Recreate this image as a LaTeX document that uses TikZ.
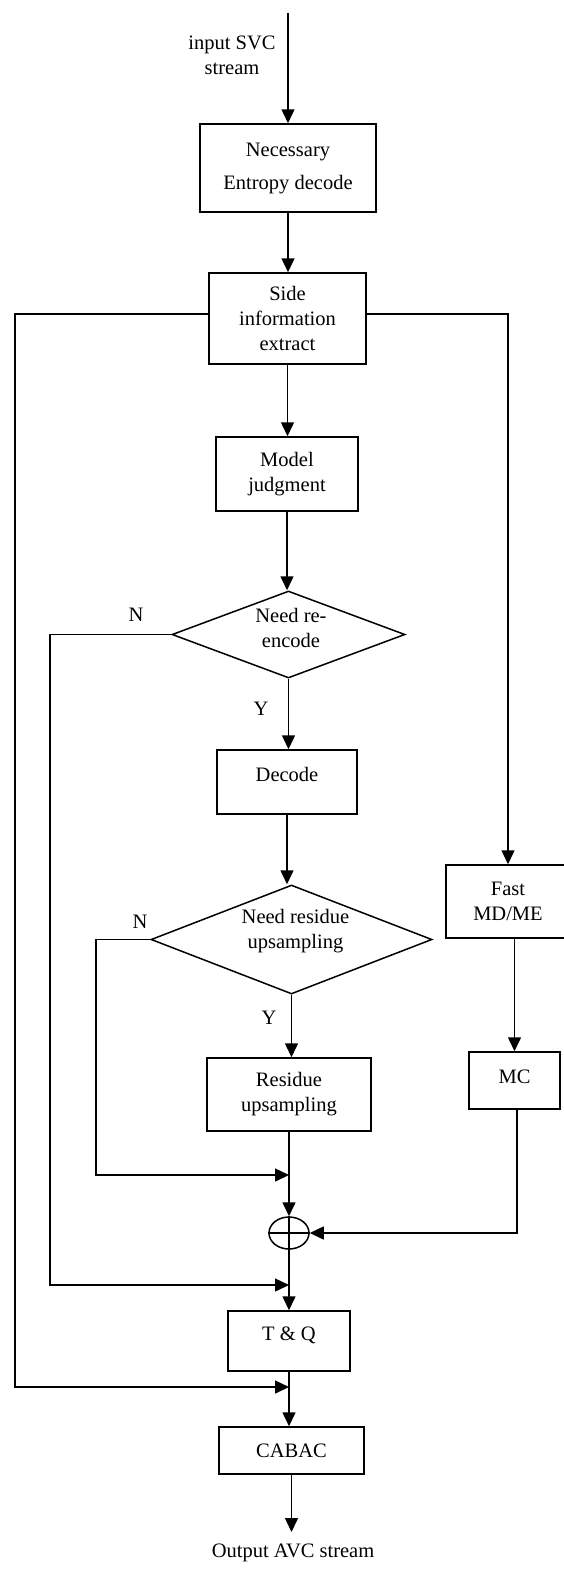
\documentclass[tikz,border=0pt]{standalone}
\usepackage{fontspec}
\setmainfont{Liberation Serif}
\usetikzlibrary{arrows.meta,shapes.geometric}
\tikzset{
  ln/.style={line width=1.5pt},
  arr/.style={ln,-{Triangle[length=14pt,width=13pt]}},
  box/.style={draw,ln,rectangle,inner sep=0pt,align=center,font=\fontsize{20.5}{25}\selectfont},
  dia/.style={draw,ln,diamond,inner sep=0pt},
  txt/.style={inner sep=0pt,align=center,font=\fontsize{20.5}{25}\selectfont},
}
\begin{document}
\begin{tikzpicture}[x=1pt,y=-1pt]
\useasboundingbox[fill=white] (0,0) rectangle (563,1571);
% nodes
\node[box,minimum width=176pt,minimum height=88pt] (b1) at (288,168) {Necessary\\[8pt]Entropy decode};
\node[box,minimum width=157pt,minimum height=91pt] (b2) at (287.5,318.5) {Side\\information\\extract};
\node[box,minimum width=142pt,minimum height=74pt] (model) at (287,474) {Model\\judgment};
\node[dia,minimum width=233pt,minimum height=87pt,
      label={[txt,xshift=2.5pt,yshift=6.5pt]center:{Need re-\\encode}}] (d1) at (288.5,634.5) {};
\node[box,minimum width=140pt,minimum height=64pt,
      label={[txt,yshift=8pt]center:Decode}] (decode) at (287,782) {};
\node[dia,minimum width=281pt,minimum height=109pt,
      label={[txt,xshift=4pt,yshift=8pt]center:{Need residue\\upsampling}}] (d2) at (291.5,939.5) {};
\node[box,minimum width=164pt,minimum height=73pt] (res) at (289,1094.5) {Residue\\upsampling};
\node[box,minimum width=124pt,minimum height=73pt] (fast) at (508,901.5) {Fast\\MD/ME};
\node[box,minimum width=91pt,minimum height=57pt,
      label={[txt,yshift=3.5pt]center:MC}] (mc) at (514.5,1080.5) {};
\node[draw,ln,ellipse,minimum width=40pt,minimum height=32pt,inner sep=0pt] (sum) at (289,1233) {};
\node[box,minimum width=122pt,minimum height=60pt,
      label={[txt,yshift=6pt]center:T \& Q}] (tq) at (289,1341) {};
\node[box,minimum width=145pt,minimum height=47pt] (cabac) at (291.5,1450.5) {CABAC};
% labels
\node[txt] (inlab) at (232,55.5) {input SVC\\stream};
\node[txt] (outlab) at (293,1553) {Output AVC stream};
\node[txt] (n1) at (136,615) {N};
\node[txt] (y1) at (261,709) {Y};
\node[txt] (n2) at (140,922) {N};
\node[txt] (y2) at (269,1018) {Y};
% coordinates
\coordinate (in) at (288,13);
\coordinate (out) at (291.5,1532);
\coordinate (j1) at (289,1175);
\coordinate (j2) at (289,1285);
\coordinate (j3) at (289,1387);
\coordinate (c1) at (50,1285);
\coordinate (c2) at (96,1175);
\coordinate (c3) at (15,1387);
\coordinate (c4) at (517,1233);
% sum cross
\draw[ln] (sum.west) -- (sum.east);
\draw[ln] (sum.north) -- (sum.south);
% main column
\draw[arr] (in) -- (in |- b1.north);
\draw[arr] (b1.south) -- (b1.south |- b2.north);
\draw[arr] (b2.south) -- (b2.south |- model.north);
\draw[arr] (model.south) -- (model.south |- d1.north);
\draw[arr] (d1.south) -- (d1.south |- decode.north);
\draw[arr] (decode.south) -- (decode.south |- d2.north);
\draw[arr] (d2.south) -- (d2.south |- res.north);
\draw[arr] (res.south) -- (sum.north);
\draw[arr] (sum.south) -- (tq.north);
\draw[arr] (tq.south) -- (tq.south |- cabac.north);
\draw[arr] (cabac.south) -- (out);
% side branches
\draw[arr] ([yshift=4.5pt]b2.west) -| (c3) -- (j3);
\draw[arr] ([yshift=4.5pt]b2.east) -| (fast.north);
\draw[arr] (mc.north |- fast.south) -- (mc.north);
\draw[arr] ([xshift=2.5pt]mc.south) -- (c4) -- (sum.east);
\draw[arr] (d1.west) -| (c1) -- (j2);
\draw[arr] (d2.west) -| (c2) -- (j1);
\end{tikzpicture}
\end{document}
